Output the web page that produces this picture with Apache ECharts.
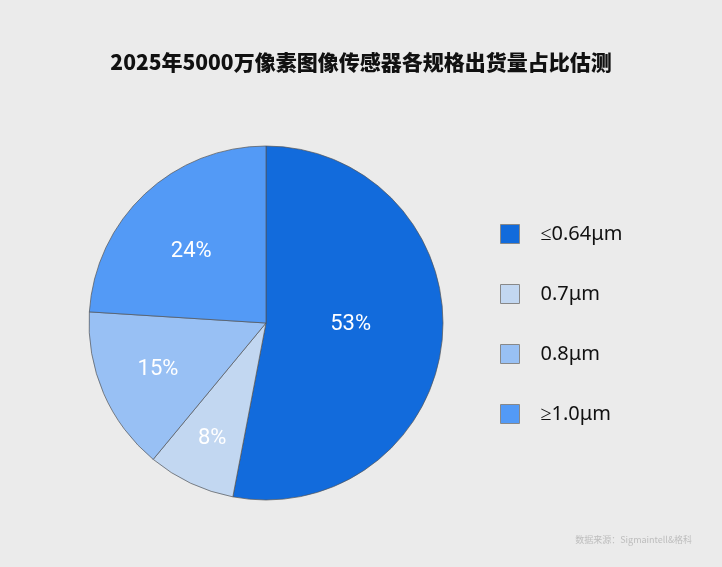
<!DOCTYPE html>
<html><head><meta charset="utf-8">
<script src="https://cdn.jsdelivr.net/npm/echarts@6/dist/echarts.min.js"></script>
<style>html,body{margin:0;padding:0;background:#ebebeb}#c{width:722px;height:567px}</style>
</head><body><div id="c"></div>
<script>
const categories = ['≤0.64μm', '0.7μm', '0.8μm', '≥1.0μm'];
const shares = [53, 8, 15, 24];
const colors = ['#126bdc', '#c2d7f1', '#98c0f4', '#539af6'];
const labelDist = [0.48, 0.71, 0.66, 0.6]; // label distance as fraction of radius
const labelNudge = [[-3, -7], [1, -1], [2, -1], [0, 8]];

const R = 177;
const total = shares.reduce((a, b) => a + b, 0);
let cum = 0;
const data = categories.map((name, i) => {
  const mid = (cum + shares[i] / 2) / total * 2 * Math.PI;
  cum += shares[i];
  const d = (labelDist[i] - 0.5) * R;
  return {
    name, value: shares[i],
    itemStyle: { color: colors[i] },
    label: { offset: [d * Math.sin(mid) + labelNudge[i][0], -d * Math.cos(mid) + labelNudge[i][1]] }
  };
});

const chart = echarts.init(document.getElementById('c'));
chart.setOption({
  backgroundColor: '#ebebeb',
  animation: false,
  title: {
    text: '2025年5000万像素图像传感器各规格出货量占比估测',
    left: 'center', top: 47,
    textStyle: { fontFamily: 'Noto Sans CJK SC', fontWeight: 900, fontSize: 21, color: '#111' }
  },
  graphic: [{
    type: 'text', right: 30, top: 535,
    style: { text: '数据来源：Sigmaintell&格科', fill: '#bdbdbd', font: '9px "Noto Sans CJK SC"' }
  }],
  legend: {
    orient: 'vertical', left: 500, top: 224, padding: 0,
    itemWidth: 19, itemHeight: 19, itemGap: 40,
    icon: 'rect',
    textStyle: { fontFamily: 'Noto Sans', fontSize: 20, color: '#111', padding: [0, 0, 0, 16] },
    itemStyle: { borderColor: '#888', borderWidth: 1 },
    data: categories
  },
  series: [{
    type: 'pie',
    center: [266, 323],
    radius: R,
    startAngle: 90,
    clockwise: true,
    itemStyle: { borderColor: '#555', borderWidth: 0.7 },
    label: {
      position: 'inside', formatter: '{c}%',
      color: '#fff', fontSize: 22, fontWeight: 'normal', fontFamily: 'Roboto'
    },
    labelLine: { show: false },
    emphasis: { disabled: true },
    data
  }]
});
</script></body></html>
